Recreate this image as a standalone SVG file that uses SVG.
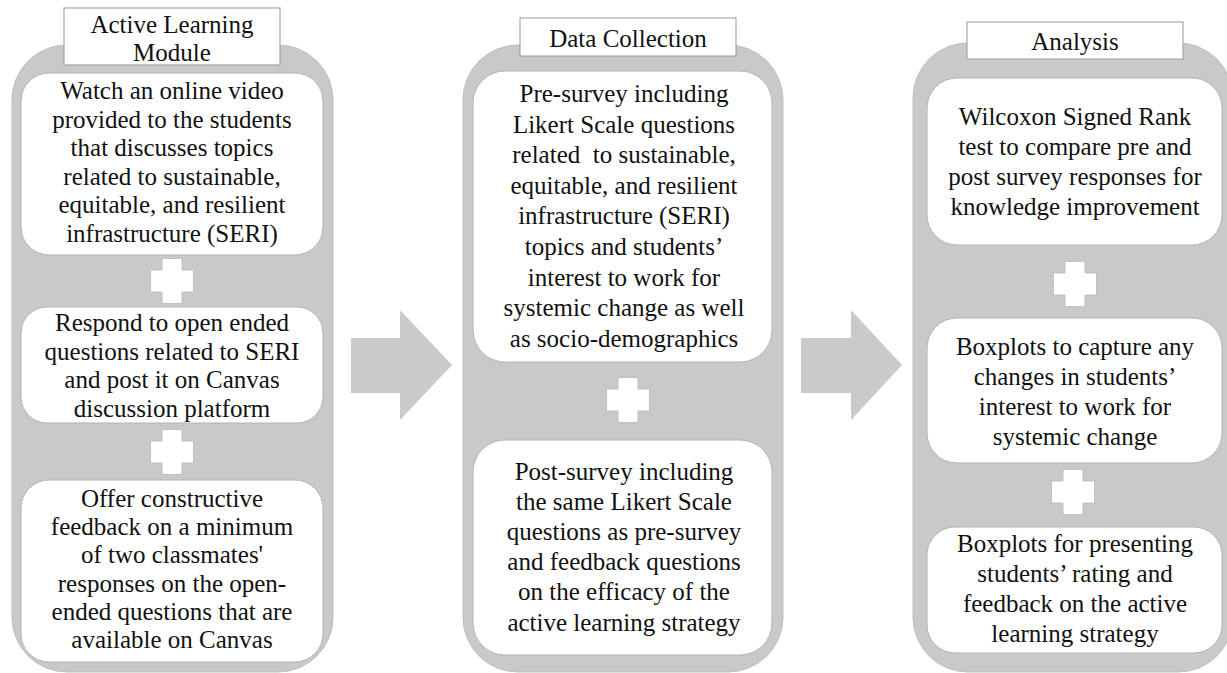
<svg xmlns="http://www.w3.org/2000/svg" width="1227" height="673" viewBox="0 0 1227 673">
<style>
.outer{fill:#c9c9c9;stroke:#bdbdbd;stroke-width:1}
.inner{fill:#ffffff;stroke:#b4b4b4;stroke-width:1}
.title{fill:#ffffff;stroke:#9a9a9a;stroke-width:1}
.plus{fill:#ffffff;stroke:#b8b8b8;stroke-width:0.8}
.arrow{fill:#cacaca}
text{font-size:25px;fill:#111;text-anchor:middle}
</style>
<defs>
<path id="plus" d="M-10,-22.5 H10 V-11 H21.5 V11 H10 V22.5 H-10 V11 H-21.5 V-11 H-10 Z"/>
</defs>
<rect width="1227" height="673" fill="#ffffff"/>

<g id="connectors">
<polygon class="arrow" points="351,338 400,338 400,310 452,365 400,420 400,393 351,393"/>
<polygon class="arrow" points="801,338 851,338 851,310 902,365 851,420 851,393 801,393"/>
</g>

<g font-family="'Liberation Serif', Tinos, 'DejaVu Serif', serif">
<g id="col-active-learning">
<rect class="outer" x="12" y="45" width="321" height="627" rx="55" ry="55"/>
<rect class="title" x="64" y="8" width="216" height="57"/>
<text x="172" y="33">Active Learning</text>
<text x="172" y="61">Module</text>
<g id="al-watch">
<rect class="inner" x="21" y="73" width="302" height="182" rx="28" ry="28"/>
<text x="172" y="99">Watch an online video</text>
<text x="172" y="128">provided to the students</text>
<text x="172" y="156">that discusses topics</text>
<text x="172" y="185">related to sustainable,</text>
<text x="172" y="213">equitable, and resilient</text>
<text x="172" y="242">infrastructure (SERI)</text>
</g>
<use href="#plus" class="plus" x="172" y="281"/>
<g id="al-respond">
<rect class="inner" x="21" y="307" width="302" height="116" rx="26" ry="26"/>
<text x="172" y="331">Respond to open ended</text>
<text x="172" y="360">questions related to SERI</text>
<text x="172" y="388">and post it on Canvas</text>
<text x="172" y="417">discussion platform</text>
</g>
<use href="#plus" class="plus" x="172" y="452"/>
<g id="al-feedback">
<rect class="inner" x="21" y="480" width="302" height="182" rx="28" ry="28"/>
<text x="172" y="507">Offer constructive</text>
<text x="172" y="535">feedback on a minimum</text>
<text x="172" y="563">of two classmates'</text>
<text x="172" y="592">responses on the open-</text>
<text x="172" y="620">ended questions that are</text>
<text x="172" y="648">available on Canvas</text>
</g>
</g>

<g id="col-data-collection">
<rect class="outer" x="463" y="45" width="320" height="627" rx="55" ry="55"/>
<rect class="title" x="520" y="18" width="216" height="38"/>
<text x="628" y="47">Data Collection</text>
<g id="dc-pre">
<rect class="inner" x="473" y="71" width="299" height="291" rx="32" ry="32"/>
<text x="624" y="102">Pre-survey including</text>
<text x="624" y="132.6">Likert Scale questions</text>
<text x="624" y="163.2" xml:space="preserve">related  to sustainable,</text>
<text x="624" y="193.8">equitable, and resilient</text>
<text x="624" y="224.4">infrastructure (SERI)</text>
<text x="624" y="255">topics and students’</text>
<text x="624" y="285.6">interest to work for</text>
<text x="624" y="316.2">systemic change as well</text>
<text x="624" y="346.8">as socio-demographics</text>
</g>
<use href="#plus" class="plus" x="628" y="400"/>
<g id="dc-post">
<rect class="inner" x="473" y="440" width="299" height="215" rx="32" ry="32"/>
<text x="624" y="480">Post-survey including</text>
<text x="624" y="510">the same Likert Scale</text>
<text x="624" y="540">questions as pre-survey</text>
<text x="624" y="570">and feedback questions</text>
<text x="624" y="600">on the efficacy of the</text>
<text x="624" y="631">active learning strategy</text>
</g>
</g>

<g id="col-analysis">
<rect class="outer" x="913" y="43" width="320" height="629" rx="55" ry="55"/>
<rect class="title" x="967" y="22" width="216" height="37"/>
<text x="1075" y="50">Analysis</text>
<g id="an-wilcoxon">
<rect class="inner" x="927" y="78" width="295" height="167" rx="30" ry="30"/>
<text x="1075" y="125">Wilcoxon Signed Rank</text>
<text x="1075" y="155">test to compare pre and</text>
<text x="1075" y="185">post survey responses for</text>
<text x="1075" y="215">knowledge improvement</text>
</g>
<use href="#plus" class="plus" x="1075" y="284"/>
<g id="an-boxplots-interest">
<rect class="inner" x="927" y="318" width="295" height="145" rx="30" ry="30"/>
<text x="1075" y="355">Boxplots to capture any</text>
<text x="1075" y="385">changes in students’</text>
<text x="1075" y="415">interest to work for</text>
<text x="1075" y="445">systemic change</text>
</g>
<use href="#plus" class="plus" x="1073" y="492"/>
<g id="an-boxplots-rating">
<rect class="inner" x="927" y="527" width="295" height="126" rx="28" ry="28"/>
<text x="1075" y="552">Boxplots for presenting</text>
<text x="1075" y="582">students’ rating and</text>
<text x="1075" y="612">feedback on the active</text>
<text x="1075" y="642">learning strategy</text>
</g>
</g>
</g>
</svg>
